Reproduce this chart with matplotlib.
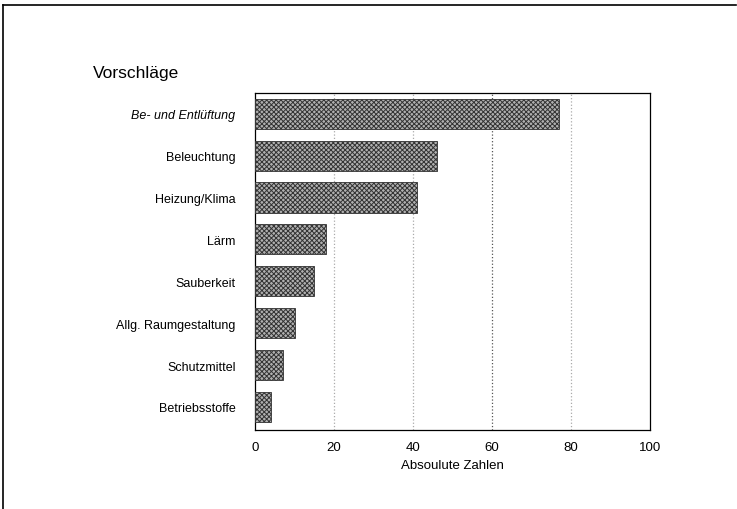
import matplotlib.pyplot as plt
from matplotlib.lines import Line2D

categories = ['Be- und Entlüftung', 'Beleuchtung', 'Heizung/Klima', 'Lärm',
              'Sauberkeit', 'Allg. Raumgestaltung', 'Schutzmittel', 'Betriebsstoffe']
values = [77, 46, 41, 18, 15, 10, 7, 4]
xticks = [0, 20, 40, 60, 80, 100]

plt.rcParams['font.family'] = ['Liberation Sans', 'DejaVu Sans']
plt.rcParams['hatch.color'] = '#3a3a3a'
plt.rcParams['hatch.linewidth'] = 0.7

fig = plt.figure(figsize=(7.37, 5.10), dpi=100)
ax = fig.add_axes([0.346, 0.155, 0.536, 0.661])

pos = list(range(len(categories)))
ax.barh(pos, values, height=0.72, color='#b0b0b0', edgecolor='#333333',
        linewidth=0.6, hatch='xxxxxxx', zorder=3)
ax.set_ylim(len(categories) - 0.45, -0.5)
ax.set_xlim(0, 100)
ax.set_xticks(xticks)
ax.set_yticks(pos)
ax.set_yticklabels(categories, fontsize=9)
ax.get_yticklabels()[0].set_style('italic')
ax.tick_params(axis='x', labelsize=9.5, length=0, pad=8)
ax.tick_params(axis='y', length=0, pad=14)
ax.set_xlabel('Absoulute Zahlen', fontsize=9.5, labelpad=4)
for x in xticks[1:-1]:
    ax.axvline(x, color='#555555' if x == 60 else '#aaaaaa', linestyle=':',
               linewidth=0.9, zorder=1)
for s in ax.spines.values():
    s.set_linewidth(0.9)

fig.text(0.126, 0.855, 'Vorschläge', fontsize=12.5, ha='left', va='center')

# outer frame (left and top edges)
fig.add_artist(Line2D([0.004, 0.004], [0.0, 0.988], color='black', linewidth=1.2))
fig.add_artist(Line2D([0.004, 0.998], [0.988, 0.988], color='black', linewidth=1.2))

fig.savefig('out.png', dpi=100)
